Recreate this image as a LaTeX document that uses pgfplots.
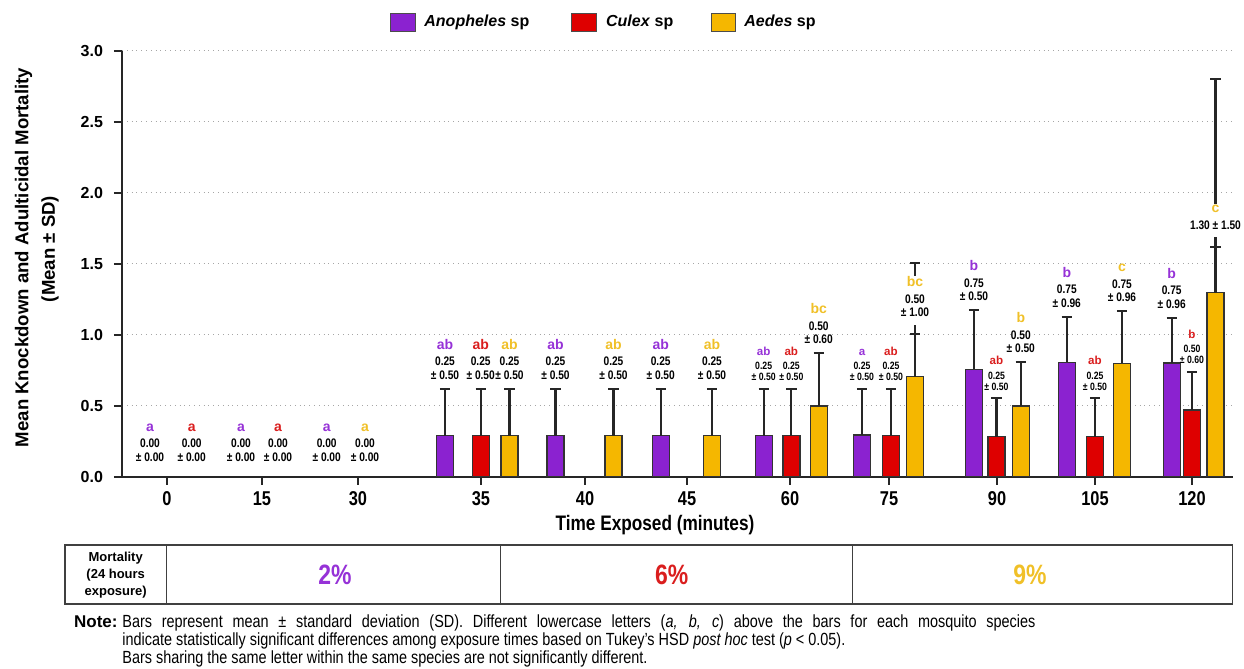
\documentclass[border=0pt]{standalone}
\usepackage{fontspec}
\setmainfont{Liberation Sans}
\newfontfamily\narrow[FakeStretch=0.82]{Liberation Sans}
\usepackage{pgfplots}
\pgfplotsset{compat=1.18}
\usepackage{pgfplotstable}

\definecolor{purpB}{RGB}{139,34,208}
\definecolor{redB}{RGB}{222,0,0}
\definecolor{yelB}{RGB}{245,183,0}
\definecolor{purpT}{RGB}{150,50,215}
\definecolor{redT}{RGB}{218,30,30}
\definecolor{yelT}{RGB}{240,192,40}

\pgfplotstableread{
x y e
445 0.29 0.33
555.5 0.29 0.33
660.7 0.29 0.33
763.7 0.29 0.33
862 0.294 0.326
974 0.756 0.418
1066.8 0.806 0.321
1171.7 0.80 0.32
}\anoph

\pgfplotstableread{
x y e
480.7 0.29 0.33
791.3 0.29 0.33
891 0.29 0.33
996.5 0.282 0.27
1095 0.282 0.27
1192 0.47 0.27
}\culex

\pgfplotstableread{
x y e
509.5 0.29 0.33
613.5 0.29 0.33
712 0.29 0.33
818.7 0.498 0.371
915 0.704 0.803
1020.8 0.498 0.308
1122 0.799 0.368
1215.5 1.296 1.504
}\aedes

\pgfplotstableread{
x y e
915 0.704 0.299
1215.5 1.296 0.324
}\aedescap

\pgfplotsset{
 ebar/.style={error bars/.cd, y dir=plus, y explicit,
  error bar style={line width=1.1pt, draw=black!85, solid},
  error mark options={rotate=90, mark size=2.6pt, line width=1.1pt, draw=black!85, solid}},
}

\tikzset{
 lab/.style={anchor=south, align=center, inner sep=0.5pt, yshift=4pt,
   font=\narrow\bfseries\fontsize{6.2}{6.6}\selectfont},
 slab/.style={anchor=south, align=center, inner sep=0.5pt, yshift=3.1pt,
   font=\narrow\bfseries\fontsize{5.3}{5.8}\selectfont},
 wlab/.style={lab, fill=white, yshift=0.5pt, text depth=3.5pt},
}
\newcommand{\lt}[2]{{\normalfont\bfseries\fontsize{7}{7}\selectfont\textcolor{#1}{#2}}\\[1.8pt]}
\newcommand{\slt}[2]{{\normalfont\bfseries\fontsize{5.8}{5.8}\selectfont\textcolor{#1}{#2}}\\[1.3pt]}
\newcommand{\labN}[6]{\node[lab] at (axis cs:#1,#2) {\lt{#3}{#4}#5\\#6};}
\newcommand{\labW}[6]{\node[wlab] at (axis cs:#1,#2) {\lt{#3}{#4}#5\\#6};}
\newcommand{\labS}[6]{\node[slab] at (axis cs:#1,#2) {\slt{#3}{#4}#5\\#6};}
\newcommand{\labZ}[2]{\node[lab, yshift=3pt] at (axis cs:#1,0) {\lt{#2}{a}0.00\\± 0.00};}

\begin{document}
\begin{tikzpicture}
\useasboundingbox (0,0) rectangle (622pt,-334.5pt);

\begin{scope}[x=0.5pt,y=-0.5pt]
% legend
\filldraw[fill=purpB, draw=black!70, line width=0.5pt] (390.7,13.3) rectangle (415,31.7);
\node[anchor=west, inner sep=0, font=\bfseries\fontsize{8}{8}\selectfont] at (424,22.5) {\textit{Anopheles} sp};
\filldraw[fill=redB, draw=black!70, line width=0.5pt] (571.7,13.3) rectangle (596.7,31.7);
\node[anchor=west, inner sep=0, font=\bfseries\fontsize{8}{8}\selectfont] at (605.7,22.5) {\textit{Culex} sp};
\filldraw[fill=yelB, draw=black!70, line width=0.5pt] (711,13.3) rectangle (735,31.7);
\node[anchor=west, inner sep=0, font=\bfseries\fontsize{8}{8}\selectfont] at (744,22.5) {\textit{Aedes} sp};
% y label
\node[rotate=90, inner sep=0, font=\bfseries\fontsize{9.3}{9.3}\selectfont] at (23.5,257.5) {Mean Knockdown and Adulticidal Mortality};
\node[rotate=90, inner sep=0, font=\bfseries\fontsize{9.3}{9.3}\selectfont] at (50,249) {(Mean ± SD)};
\end{scope}

\begin{axis}[
 at={(61pt,-238.35pt)}, anchor=south west,
 scale only axis, width=555.5pt, height=213pt,
 xmin=122, xmax=1233, ymin=0, ymax=3,
 axis x line*=bottom, axis y line*=left,
 axis line style={line width=1.1pt, black!85},
 xtick={167,262,358,481,585,687,790,889,997,1095,1192},
 xticklabels={0,15,30,35,40,45,60,75,90,105,120},
 ytick={0,0.5,1,1.5,2,2.5,3},
 yticklabels={0.0,0.5,1.0,1.5,2.0,2.5,3.0},
 tick align=outside, major tick length=4pt,
 tick style={line width=0.9pt, black!85},
 xticklabel style={font=\narrow\bfseries\fontsize{10}{12}\selectfont},
 yticklabel style={font=\bfseries\fontsize{8}{10}\selectfont, xshift=-2pt},
 ymajorgrids, grid style={dotted, gray!70, line width=0.6pt},
 clip=false,
]
\addplot[ybar, bar width=17, bar shift=0pt, fill=purpB, draw=black!80, line width=0.7pt, ebar]
  table[x=x, y=y, y error=e] {\anoph};
\addplot[ybar, bar width=17, bar shift=0pt, fill=redB, draw=black!80, line width=0.7pt, ebar]
  table[x=x, y=y, y error=e] {\culex};
\addplot[ybar, bar width=17, bar shift=0pt, fill=yelB, draw=black!80, line width=0.7pt, ebar]
  table[x=x, y=y, y error=e] {\aedes};
\addplot[draw=none, mark=none, ebar]
  table[x=x, y=y, y error=e] {\aedescap};

% zero labels
\labZ{150}{purpT}
\labZ{191.7}{redT}
\labZ{241}{purpT}
\labZ{278}{redT}
\labZ{326.7}{purpT}
\labZ{365}{yelT}
% normal labels
\labN{445}{0.62}{purpT}{ab}{0.25}{± 0.50}
\labN{480.7}{0.62}{redT}{ab}{0.25}{± 0.50}
\labN{509.5}{0.62}{yelT}{ab}{0.25}{± 0.50}
\labN{555.5}{0.62}{purpT}{ab}{0.25}{± 0.50}
\labN{613.5}{0.62}{yelT}{ab}{0.25}{± 0.50}
\labN{660.7}{0.62}{purpT}{ab}{0.25}{± 0.50}
\labN{712}{0.62}{yelT}{ab}{0.25}{± 0.50}
\labN{818.7}{0.869}{yelT}{bc}{0.50}{± 0.60}
\labW{915}{1.003}{yelT}{bc}{0.50}{± 1.00}
\labN{974}{1.174}{purpT}{b}{0.75}{± 0.50}
\labN{1020.8}{0.806}{yelT}{b}{0.50}{± 0.50}
\labN{1066.8}{1.127}{purpT}{b}{0.75}{± 0.96}
\labN{1122}{1.167}{yelT}{c}{0.75}{± 0.96}
\labN{1171.7}{1.12}{purpT}{b}{0.75}{± 0.96}
\node[wlab] at (axis cs:1215.5,1.62) {\lt{yelT}{c}1.30 ± 1.50};
% small labels
\labS{763.7}{0.62}{purpT}{ab}{0.25}{± 0.50}
\labS{791.3}{0.62}{redT}{ab}{0.25}{± 0.50}
\labS{862}{0.62}{purpT}{a}{0.25}{± 0.50}
\labS{891}{0.62}{redT}{ab}{0.25}{± 0.50}
\labS{996.5}{0.552}{redT}{ab}{0.25}{± 0.50}
\labS{1095}{0.552}{redT}{ab}{0.25}{± 0.50}
\labS{1192}{0.74}{redT}{b}{0.50}{± 0.60}
\end{axis}

\begin{scope}[x=0.5pt,y=-0.5pt]
\node[inner sep=0, font=\narrow\bfseries\fontsize{10.5}{10.5}\selectfont] at (655,525) {Time Exposed (minutes)};
% table
\draw[line width=0.6pt, black!75] (65,545) rectangle (1232.3,604);
\draw[line width=1.1pt, black!75] (65,545) -- (1232.3,545);
\draw[line width=0.9pt, black!75] (65,604) -- (1232.3,604);
\draw[line width=0.6pt, black!75] (166.7,545) -- (166.7,604);
\draw[line width=0.6pt, black!75] (500.7,545) -- (500.7,604);
\draw[line width=0.6pt, black!75] (852.3,545) -- (852.3,604);
\node[align=center, inner sep=0, font=\bfseries\fontsize{6.5}{8.35}\selectfont] at (115.7,575) {Mortality\\(24 hours\\exposure)};
\node[inner sep=0, text=purpT, font=\narrow\bfseries\fontsize{14}{14}\selectfont] at (335,575) {2\%};
\node[inner sep=0, text=redT, font=\narrow\bfseries\fontsize{14}{14}\selectfont] at (671.7,575) {6\%};
\node[inner sep=0, text=yelT, font=\narrow\bfseries\fontsize{14}{14}\selectfont] at (1030,575) {9\%};
% note
\node[anchor=base east, inner sep=0, font=\bfseries\fontsize{8.5}{8.5}\selectfont] at (118,627) {Note:};
\node[anchor=base west, inner sep=0, font=\narrow\fontsize{8.8}{9}\selectfont] at (122,627) {\makebox[456.5pt][s]{Bars represent mean ± standard deviation (SD). Different lowercase letters (\textit{a, b, c}) above the bars for each mosquito species}};
\node[anchor=base west, inner sep=0, font=\narrow\fontsize{8.8}{9}\selectfont] at (122,645) {indicate statistically significant differences among exposure times based on Tukey’s HSD \textit{post hoc} test (\textit{p} < 0.05).};
\node[anchor=base west, inner sep=0, font=\narrow\fontsize{8.8}{9}\selectfont] at (122,663) {Bars sharing the same letter within the same species are not significantly different.};
\end{scope}
\end{tikzpicture}
\end{document}
